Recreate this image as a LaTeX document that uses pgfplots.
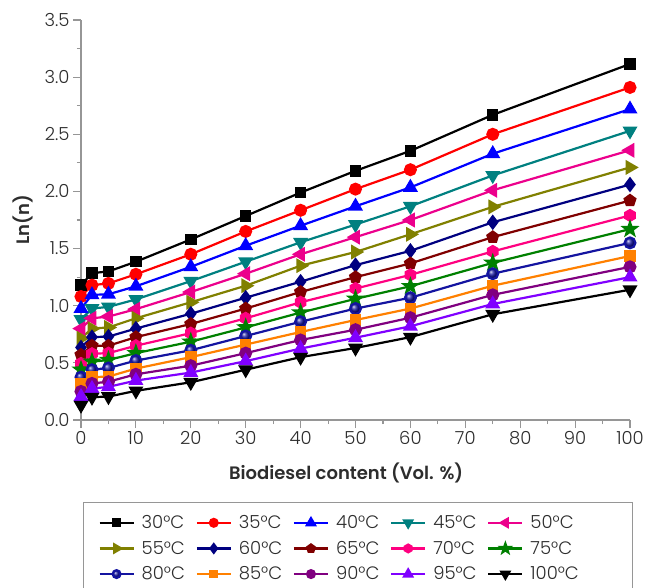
\documentclass[border=0pt]{standalone}
\usepackage{fontspec}
\setmainfont{Poppins Light}[BoldFont={Poppins SemiBold}]
\usepackage{pgfplots}
\usepackage{pgfplotstable}
\pgfplotsset{compat=1.18}
\usetikzlibrary{plotmarks}

\pgfdeclareplotmark{fstar}{%
  \pgfpathmoveto{\pgfpointpolar{90}{1.25\pgfplotmarksize}}%
  \pgfpathlineto{\pgfpointpolar{126}{0.5\pgfplotmarksize}}%
  \pgfpathlineto{\pgfpointpolar{162}{1.25\pgfplotmarksize}}%
  \pgfpathlineto{\pgfpointpolar{198}{0.5\pgfplotmarksize}}%
  \pgfpathlineto{\pgfpointpolar{234}{1.25\pgfplotmarksize}}%
  \pgfpathlineto{\pgfpointpolar{270}{0.5\pgfplotmarksize}}%
  \pgfpathlineto{\pgfpointpolar{306}{1.25\pgfplotmarksize}}%
  \pgfpathlineto{\pgfpointpolar{342}{0.5\pgfplotmarksize}}%
  \pgfpathlineto{\pgfpointpolar{18}{1.25\pgfplotmarksize}}%
  \pgfpathlineto{\pgfpointpolar{54}{0.5\pgfplotmarksize}}%
  \pgfpathclose\pgfusepathqfillstroke}
\pgfdeclareplotmark{fhex}{%
  \pgfpathmoveto{\pgfpointpolar{90}{\pgfplotmarksize}}%
  \pgfpathlineto{\pgfpointpolar{150}{\pgfplotmarksize}}%
  \pgfpathlineto{\pgfpointpolar{210}{\pgfplotmarksize}}%
  \pgfpathlineto{\pgfpointpolar{270}{\pgfplotmarksize}}%
  \pgfpathlineto{\pgfpointpolar{330}{\pgfplotmarksize}}%
  \pgfpathlineto{\pgfpointpolar{30}{\pgfplotmarksize}}%
  \pgfpathclose\pgfusepathqfillstroke}

\definecolor{cTeal}{RGB}{0,128,128}
\definecolor{cOlive}{RGB}{128,128,0}
\definecolor{cNavy}{RGB}{0,0,128}
\definecolor{cMaroon}{RGB}{128,0,0}
\definecolor{cPink}{RGB}{255,0,128}
\definecolor{cGreen}{RGB}{0,128,0}
\definecolor{cBall}{RGB}{20,20,160}
\definecolor{cOrange}{RGB}{255,128,0}
\definecolor{cPurple}{RGB}{128,0,128}
\definecolor{cViolet}{RGB}{128,0,255}
\definecolor{cText}{RGB}{45,45,45}
\definecolor{cAxis}{RGB}{150,150,150}

\newcommand{\legA}[1]{\makebox[50bp][l]{#1}}
\newcommand{\legB}[1]{\makebox[85bp][l]{#1}}

\pgfplotstableread{
x    a     b     c     d     e     f     g     h     i     j     k     l     m     n     o
0    1.18  1.08  0.975 0.88  0.80  0.715 0.635 0.57  0.495 0.44  0.375 0.315 0.25  0.205 0.13
2    1.285 1.18  1.095 0.975 0.89  0.80  0.725 0.65  0.58  0.51  0.44  0.375 0.32  0.275 0.20
5    1.30  1.195 1.10  0.99  0.905 0.81  0.73  0.65  0.585 0.525 0.455 0.38  0.335 0.29  0.205
10   1.385 1.275 1.17  1.055 0.97  0.89  0.80  0.725 0.65  0.585 0.52  0.45  0.40  0.345 0.255
20   1.58  1.45  1.34  1.215 1.12  1.03  0.93  0.84  0.76  0.685 0.61  0.55  0.475 0.415 0.33
30   1.785 1.65  1.525 1.385 1.28  1.175 1.07  0.975 0.89  0.81  0.735 0.66  0.585 0.515 0.44
40   1.99  1.835 1.70  1.555 1.45  1.35  1.21  1.12  1.03  0.94  0.86  0.77  0.70  0.625 0.55
50   2.18  2.02  1.87  1.71  1.60  1.47  1.355 1.25  1.15  1.06  0.975 0.875 0.79  0.72  0.63
60   2.355 2.19  2.035 1.87  1.75  1.625 1.48  1.37  1.27  1.17  1.07  0.975 0.895 0.82  0.725
75   2.67  2.50  2.33  2.14  2.01  1.865 1.73  1.60  1.475 1.375 1.28  1.175 1.095 1.015 0.925
100  3.115 2.91  2.72  2.53  2.36  2.21  2.06  1.92  1.79  1.67  1.55  1.435 1.34  1.25  1.14
}\datatable

\begin{document}
\begin{tikzpicture}[x=1bp,y=1bp,font=\fontsize{18bp}{21bp}\selectfont]
\begin{axis}[
  at={(0,0)}, anchor=south west,
  scale only axis, width=549bp, height=400bp,
  xmin=0, xmax=100, ymin=0, ymax=3.5,
  axis x line*=bottom, axis y line*=left,
  xtick={0,10,...,100}, minor x tick num=1,
  ytick={0,0.5,...,3.5}, minor y tick num=1,
  tick align=outside, major tick length=8bp, minor tick length=4bp,
  axis line style={cAxis, line width=1.3bp},
  every tick/.style={cAxis, line width=1.1bp},
  tick label style={text=cText},
  /pgf/number format/assume math mode=true,
  y tick label style={/pgf/number format/.cd, fixed, fixed zerofill, precision=1},
  x tick label style={/pgf/number format/.cd, fixed},
  xlabel={\bfseries Biodiesel content (Vol. \%)},
  xlabel style={at={(axis description cs:0.483,0)}, anchor=center, yshift=-53bp, text=cText},
  ylabel={\bfseries Ln(n)},
  ylabel style={at={(axis description cs:-0.105,0.5)}, anchor=center, text=cText},
  every axis plot/.append style={line width=2.2bp},
  legend columns=5,
  legend cell align=left,
  legend style={at={(axis description cs:0.0036,-0.205)}, anchor=north west,
    draw=cAxis, line width=1bp, text=cText, inner xsep=15bp, inner ysep=11bp,
    nodes={inner xsep=2bp},
    /tikz/every odd column/.append style={column sep=5bp},
    /tikz/every even column/.append style={column sep=2bp},
    row sep=7bp},
  legend image code/.code={\draw[mark repeat=2,mark phase=2,every mark/.append style={scale=0.72}]
     plot coordinates {(0bp,0bp) (17bp,0bp) (34bp,0bp)};},
]
\addplot[black, mark=square*, mark size=4.6bp] table[x=x,y=a]{\datatable};
\addlegendentry{\legA{30°C}}
\addplot[red, mark=*, mark size=5.4bp] table[x=x,y=b]{\datatable};
\addlegendentry{\legA{35°C}}
\addplot[blue, mark=triangle*, mark size=6.5bp] table[x=x,y=c]{\datatable};
\addlegendentry{\legA{40°C}}
\addplot[cTeal, mark=triangle*, mark size=6.5bp, mark options={rotate=180}] table[x=x,y=d]{\datatable};
\addlegendentry{\legA{45°C}}
\addplot[magenta, mark=triangle*, mark size=6.5bp, mark options={rotate=90}] table[x=x,y=e]{\datatable};
\addlegendentry{\legB{50°C}}
\addplot[cOlive, mark=triangle*, mark size=6.5bp, mark options={rotate=-90}] table[x=x,y=f]{\datatable};
\addlegendentry{\legA{55°C}}
\addplot[cNavy, mark=diamond*, mark size=6bp] table[x=x,y=g]{\datatable};
\addlegendentry{\legA{60°C}}
\addplot[cMaroon, mark=pentagon*, mark size=5.6bp] table[x=x,y=h]{\datatable};
\addlegendentry{\legA{65°C}}
\addplot[cPink, mark=fhex, mark size=5.4bp] table[x=x,y=i]{\datatable};
\addlegendentry{\legA{70°C}}
\addplot[cGreen, mark=fstar, mark size=5.4bp] table[x=x,y=j]{\datatable};
\addlegendentry{\legB{75°C}}
\addplot[cBall, mark=ball, mark size=5.4bp, mark options={ball color=cBall}] table[x=x,y=k]{\datatable};
\addlegendentry{\legA{80°C}}
\addplot[cOrange, mark=square*, mark size=4.6bp] table[x=x,y=l]{\datatable};
\addlegendentry{\legA{85°C}}
\addplot[cPurple, mark=*, mark size=5.4bp] table[x=x,y=m]{\datatable};
\addlegendentry{\legA{90°C}}
\addplot[cViolet, mark=triangle*, mark size=6.5bp] table[x=x,y=n]{\datatable};
\addlegendentry{\legA{95°C}}
\addplot[black, mark=triangle*, mark size=6.5bp, mark options={rotate=180}] table[x=x,y=o]{\datatable};
\addlegendentry{\legB{100°C}}
\end{axis}
\pgfresetboundingbox
\useasboundingbox (-81bp,-168bp) rectangle (567bp,420bp);
\end{tikzpicture}
\end{document}
